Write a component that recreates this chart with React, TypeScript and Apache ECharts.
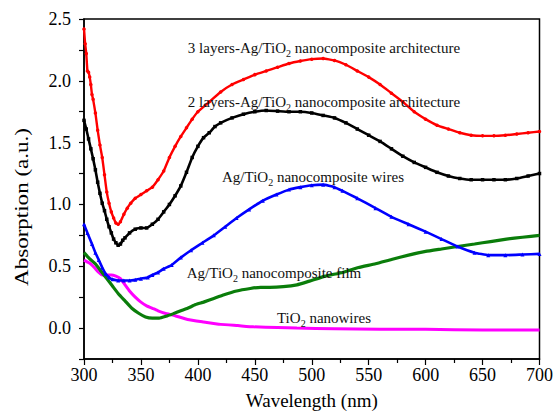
import React, { useEffect, useRef } from "react";
import * as echarts from "echarts";

const redX = [300,301,302,303,304,305,306,307,308,310,312,314,316,318,320,322,324,326,328,330,332,335,338,341,345,350,355,360,365,370,375,380,385,390,395,400,410,420,430,440,450,460,470,480,490,500,510,520,530,540,550,560,570,580,590,600,610,620,630,640,650,660,670,680,690,700];
const redY = [2.42,2.30,2.22,2.08,2.07,2.03,1.97,1.89,1.85,1.74,1.60,1.48,1.38,1.24,1.10,1.01,0.94,0.89,0.85,0.84,0.86,0.92,0.97,1.01,1.05,1.08,1.11,1.14,1.20,1.27,1.38,1.47,1.55,1.62,1.69,1.75,1.83,1.91,1.97,2.01,2.05,2.08,2.11,2.14,2.16,2.175,2.18,2.165,2.13,2.08,2.03,1.97,1.90,1.83,1.75,1.69,1.64,1.61,1.58,1.56,1.555,1.555,1.56,1.57,1.58,1.59];

const blackX = [300,302,304,306,308,310,312,314,316,318,320,322,324,326,328,330,332,334,336,340,345,350,355,360,365,370,375,380,385,390,395,400,405,410,415,420,430,440,450,460,470,480,490,500,510,520,530,540,550,560,570,580,590,600,610,620,630,640,650,660,670,680,690,700];
const blackY = [1.68,1.61,1.53,1.45,1.37,1.28,1.18,1.09,1.01,0.95,0.88,0.82,0.77,0.72,0.69,0.67,0.68,0.71,0.73,0.77,0.80,0.81,0.81,0.84,0.88,0.94,1.00,1.07,1.15,1.26,1.38,1.47,1.54,1.58,1.63,1.66,1.70,1.73,1.75,1.76,1.755,1.75,1.75,1.74,1.72,1.70,1.66,1.61,1.56,1.51,1.45,1.39,1.34,1.30,1.26,1.23,1.21,1.20,1.20,1.20,1.20,1.21,1.23,1.25];

const blueX = [300,303,307,310,313,316,319,322,325,330,335,340,345,350,356,360,365,370,377,385,394,404,414,424,434,445,457,469,480,490,500,510,520,527,540,556,570,585,600,614,628,643,655,670,685,700];
const blueY = [0.84,0.77,0.68,0.61,0.55,0.49,0.44,0.41,0.395,0.385,0.385,0.385,0.39,0.40,0.41,0.43,0.45,0.48,0.51,0.57,0.63,0.69,0.75,0.82,0.89,0.96,1.03,1.08,1.12,1.14,1.155,1.16,1.14,1.11,1.05,0.97,0.90,0.84,0.78,0.72,0.66,0.61,0.59,0.59,0.595,0.60];

const greenX = [300,305,310,315,320,325,330,336,342,348,354,360,366,372,378,385,391,398,405,414,423,434,446,455,463,475,487,498,512,527,541,556,570,585,600,614,628,643,657,671,685,700];
const greenY = [0.61,0.56,0.52,0.46,0.40,0.34,0.28,0.22,0.16,0.12,0.09,0.08,0.08,0.095,0.115,0.14,0.16,0.19,0.21,0.24,0.27,0.30,0.32,0.33,0.33,0.335,0.35,0.38,0.42,0.45,0.49,0.52,0.555,0.59,0.62,0.64,0.66,0.68,0.70,0.72,0.735,0.75];

const magentaX = [300,304,307,310,313,316,320,324,328,332,336,340,345,350,355,360,365,371,380,391,405,420,435,449,470,487,520,560,600,650,700];
const magentaY = [0.55,0.53,0.51,0.48,0.45,0.43,0.43,0.43,0.42,0.40,0.35,0.30,0.25,0.21,0.18,0.16,0.14,0.12,0.10,0.07,0.05,0.03,0.02,0.01,0.005,0.0,-0.005,-0.01,-0.01,-0.015,-0.015];

const labels = [
  { pre: "3 layers-Ag/TiO", post: " nanocomposite architecture", x: 324, y: 47 },
  { pre: "2 layers-Ag/TiO", post: " nanocomposite architecture", x: 324, y: 101 },
  { pre: "Ag/TiO", post: " nanocomposite wires", x: 313, y: 176 },
  { pre: "Ag/TiO", post: " nanocomposite film", x: 274, y: 272 },
  { pre: "TiO", post: " nanowires", x: 324, y: 317 },
];

const FONT = "'Liberation Serif', 'Times New Roman', serif";

function pairs(xs: number[], ys: number[]) {
  return xs.map((x, i) => [x, ys[i]]);
}

export default function App() {
  const ref = useRef<HTMLDivElement>(null);
  useEffect(() => {
    if (!ref.current) return;
    const chart = echarts.init(ref.current, undefined, { renderer: "svg" });
    const mk = (name: string, xs: number[], ys: number[], color: string, symbol: string, size: number, width: number) => ({
      name,
      type: "line",
      data: pairs(xs, ys),
      symbol,
      symbolSize: size,
      showSymbol: symbol !== "none",
      itemStyle: { color },
      lineStyle: { color, width },
      smooth: 0.12,
      z: 3,
    });
    chart.setOption({
      animation: false,
      backgroundColor: "#fff",
      textStyle: { fontFamily: FONT },
      grid: { left: 84, right: 10, top: 19, bottom: 52, show: true, borderColor: "#000", borderWidth: 1.5, backgroundColor: "transparent" },
      xAxis: {
        type: "value",
        min: 300,
        max: 700,
        interval: 50,
        name: "Wavelength (nm)",
        nameLocation: "middle",
        nameGap: 32,
        nameTextStyle: { fontFamily: FONT, fontSize: 19, color: "#000" },
        axisLine: { show: true, onZero: false, lineStyle: { color: "#000", width: 1.5 } },
        axisTick: { show: true, inside: false, length: 6, lineStyle: { color: "#000", width: 1.2 } },
        minorTick: { show: true, splitNumber: 2, length: 4, lineStyle: { color: "#000", width: 1.2 } },
        splitLine: { show: false },
        minorSplitLine: { show: false },
        axisLabel: {
          fontFamily: FONT,
          fontSize: 18,
          color: "#000",
          margin: 7,
          formatter: (v: number) => String(Math.round(v)),
        },
      },
      yAxis: {
        type: "value",
        min: -0.25,
        max: 2.5,
        interval: 0.25,
        axisLine: { show: true, onZero: false, lineStyle: { color: "#000", width: 1.5 } },
        axisTick: { show: true, inside: false, length: 5, lineStyle: { color: "#000", width: 1.2 } },
        splitLine: { show: false },
        axisLabel: {
          fontFamily: FONT,
          fontSize: 18,
          color: "#000",
          margin: 13,
          showMinLabel: true,
          showMaxLabel: true,
          formatter: (v: number) => {
            const r = Math.round(v * 2);
            if (Math.abs(v * 2 - r) > 1e-6 || r < 0) return "";
            return (r / 2).toFixed(1);
          },
        },
      },
      series: [
        mk("TiO2 nanowires", magentaX, magentaY, "#ff00ff", "none", 0, 3),
        mk("Ag/TiO2 nanocomposite film", greenX, greenY, "#0a7d0a", "none", 0, 3.2),
        mk("Ag/TiO2 nanocomposite wires", blueX, blueY, "#0000ff", "triangle", 4, 2.6),
        mk("2 layers", blackX, blackY, "#000000", "rect", 3.5, 2.6),
        mk("3 layers", redX, redY, "#ff0000", "circle", 3.5, 2.4),
      ],
      graphic: [
        {
          type: "text",
          x: 22,
          y: 207,
          rotation: Math.PI / 2,
          scaleX: 1.28,
          style: {
            text: "Absorption (a.u.)",
            fontFamily: FONT,
            fontSize: 18,
            fill: "#000",
            align: "center",
            verticalAlign: "middle",
          },
        },
        ...labels.map((l) => ({
          type: "text",
          x: l.x,
          y: l.y,
          z: 10,
          style: {
            text: `{a|${l.pre}}{s|2}{a|${l.post}}`,
            align: "center",
            verticalAlign: "middle",
            fontFamily: FONT,
            rich: {
              a: { fontFamily: FONT, fontSize: 15, fill: "#111", lineHeight: 17, verticalAlign: "bottom" },
              s: { fontFamily: FONT, fontSize: 10, fill: "#111", lineHeight: 17, verticalAlign: "bottom", padding: [0, 0, -3, 0] },
            },
          },
        })),
      ],
    });
    return () => chart.dispose();
  }, []);
  return <div ref={ref} style={{ width: 556, height: 415, position: "absolute", left: 0, top: 0, background: "#fff" }} />;
}
